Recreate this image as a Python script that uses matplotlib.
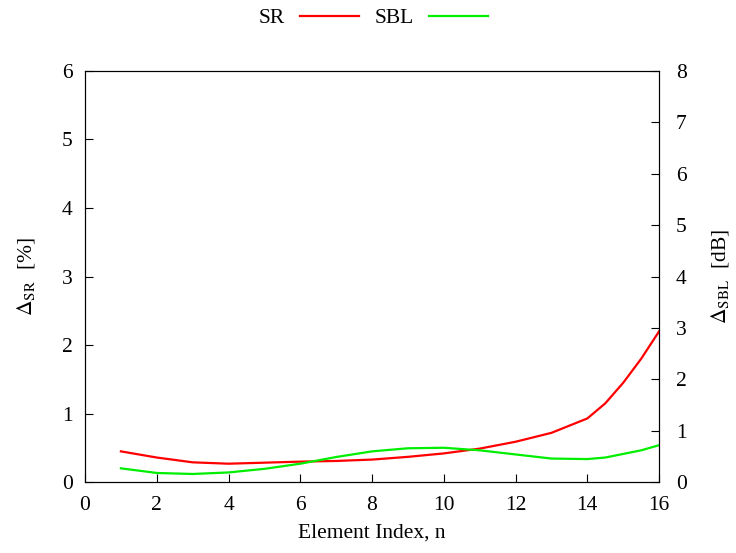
import matplotlib
matplotlib.use("Agg")
import matplotlib.pyplot as plt

# element index
n = [1, 2, 3, 4, 5, 6, 7, 8, 9, 10, 11, 12, 13, 14, 14.5, 15, 15.5, 16]
# SR error [%] (left axis)
sr = [0.45, 0.36, 0.29, 0.27, 0.285, 0.30, 0.31, 0.33, 0.37, 0.42, 0.49, 0.59, 0.72, 0.93, 1.15, 1.45, 1.80, 2.20]
# SBL error [dB] (right axis)
sbl = [0.27, 0.18, 0.16, 0.19, 0.26, 0.36, 0.49, 0.60, 0.66, 0.67, 0.62, 0.54, 0.46, 0.45, 0.48, 0.55, 0.62, 0.72]

plt.rcParams["font.family"] = ["Liberation Serif", "DejaVu Serif"]
plt.rcParams["mathtext.fontset"] = "stix"
plt.rcParams["font.size"] = 15.5

fig = plt.figure(figsize=(7.36, 5.53), dpi=100)
ax = fig.add_axes([0.1155, 0.128, 0.78, 0.744])
ax2 = ax.twinx()

l1, = ax.plot(n, sr, color="#ff0000", lw=1.6, label="SR")
l2, = ax2.plot(n, sbl, color="#00ee00", lw=1.6, label="SBL")

ax.set_xlim(0, 16)
ax.set_ylim(0, 6)
ax2.set_ylim(0, 8)
ax.set_xticks(range(0, 17, 2))
ax.set_yticks(range(0, 7))
ax2.set_yticks(range(0, 9))

ax.tick_params(direction="in", length=6, width=0.8, top=False, right=False, pad=9)
ax.tick_params(axis="x", pad=10)
ax2.tick_params(direction="in", length=6, width=0.8, pad=12)

ax.set_xlabel("Element Index, n", labelpad=6)
ax.set_ylabel(r"$\Delta_{\mathrm{SR}}$  [%]", labelpad=18)
ax2.set_ylabel(r"$\Delta_{\mathrm{SBL}}$  [dB]", labelpad=16)

fig.legend([l1, l2], ["SR", "SBL"], loc="center", bbox_to_anchor=(0.507, 0.967),
           ncol=2, frameon=False, markerfirst=False, handlelength=2.75,
           columnspacing=0.7, handletextpad=0.7)

fig.savefig("out.png", dpi=100)
